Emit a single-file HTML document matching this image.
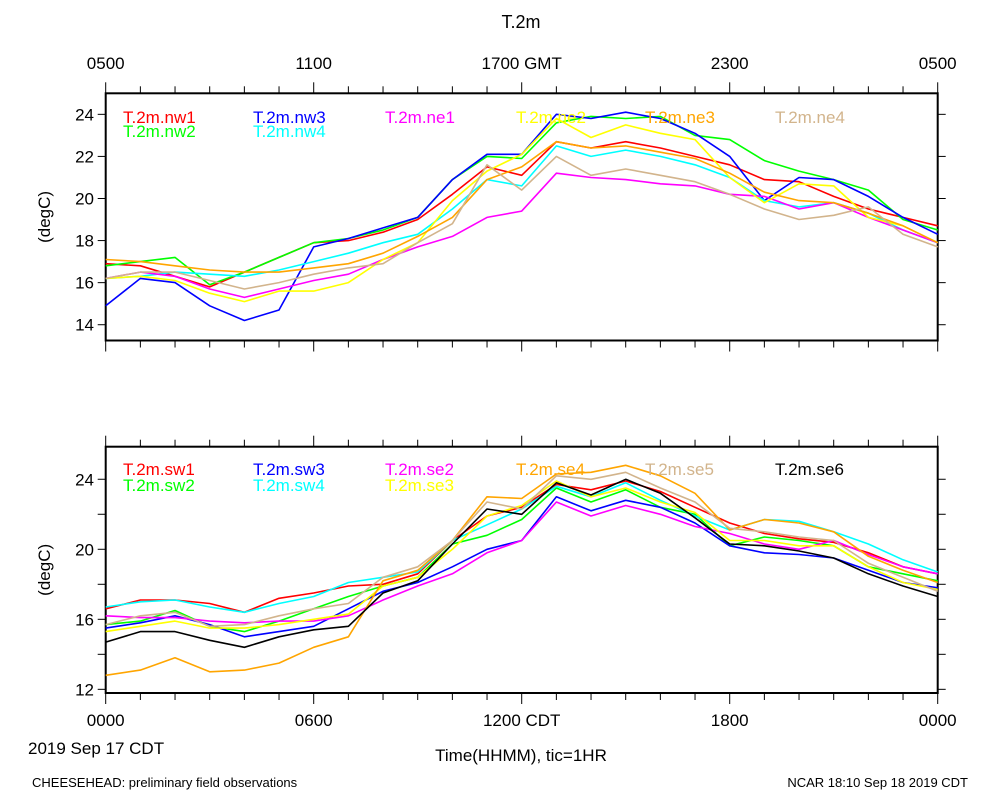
<!DOCTYPE html>
<html><head><meta charset="utf-8">
<style>
html,body{margin:0;padding:0;background:#fff;}
svg{display:block;font-family:"Liberation Sans",sans-serif;}
</style></head>
<body>
<svg id="chart" width="1000" height="800" viewBox="0 0 1000 800" xmlns="http://www.w3.org/2000/svg">
<rect width="1000" height="800" fill="#fff"/>
<text x="521" y="28" font-size="18" text-anchor="middle">T.2m</text>
<g id="top-panel"></g>
<g id="bottom-panel"></g>
<text x="28" y="754" font-size="17">2019 Sep 17 CDT</text>
<text x="521" y="761" font-size="17" text-anchor="middle">Time(HHMM), tic=1HR</text>
<text x="32" y="787" font-size="13">CHEESEHEAD: preliminary field observations</text>
<text x="968" y="787" font-size="13" text-anchor="end">NCAR 18:10 Sep 18 2019 CDT</text>
</svg>
<script>
// hours 0..24 (CDT)
const hours = [0,1,2,3,4,5,6,7,8,9,10,11,12,13,14,15,16,17,18,19,20,21,22,23,24];
const topTicks = [14,16,18,20,22,24];
const bottomTicks = [12,16,20,24];
const topAxisLabels = ["0500","1100","1700 GMT","2300","0500"];
const bottomAxisLabels = ["0000","0600","1200 CDT","1800","0000"];

const nw1 = [16.9,16.8,16.3,15.8,16.5,17.2,17.9,18.0,18.4,19.0,20.2,21.5,21.1,22.7,22.4,22.7,22.4,22.0,21.6,20.9,20.8,20.1,19.5,19.1,18.7];
const nw2 = [16.8,17.0,17.2,15.9,16.5,17.2,17.9,18.1,18.5,19.1,20.9,22.0,21.9,23.6,23.9,23.8,23.9,23.0,22.8,21.8,21.3,20.9,20.4,19.0,18.5];
const nw3 = [14.9,16.2,16.0,14.9,14.2,14.7,17.7,18.1,18.6,19.1,20.9,22.1,22.1,24.0,23.8,24.1,23.8,23.1,22.0,19.9,21.0,20.9,20.1,19.1,18.3];
const nw4 = [16.2,16.3,16.5,16.4,16.3,16.6,17.0,17.4,17.9,18.3,19.5,20.9,20.6,22.5,22.0,22.3,22.0,21.6,21.0,19.9,19.6,19.8,19.3,18.5,17.9];
const ne1 = [16.2,16.5,16.3,15.7,15.3,15.7,16.1,16.4,17.1,17.7,18.2,19.1,19.4,21.2,21.0,20.9,20.7,20.6,20.2,20.1,19.5,19.8,19.1,18.5,17.9];
const ne2 = [16.2,16.3,16.1,15.5,15.1,15.6,15.6,16.0,17.1,17.9,19.9,21.3,22.1,23.8,22.9,23.5,23.1,22.8,21.0,19.8,20.7,20.6,19.1,18.7,17.9];
const ne3 = [17.1,17.0,16.8,16.6,16.5,16.5,16.7,16.9,17.4,18.2,19.1,20.9,21.5,22.7,22.4,22.5,22.2,21.9,21.2,20.3,19.9,19.8,19.3,18.7,17.9];
const ne4 = [16.2,16.5,16.5,16.1,15.7,16.0,16.4,16.7,16.9,17.9,18.8,21.6,20.4,22.0,21.1,21.4,21.1,20.8,20.2,19.5,19.0,19.2,19.6,18.3,17.7];

const sw1 = [16.6,17.1,17.1,16.9,16.4,17.2,17.5,17.9,18.0,18.6,20.5,21.9,22.4,23.7,23.4,23.9,23.3,22.4,21.5,20.9,20.6,20.4,19.8,19.0,18.6];
const sw2 = [15.7,15.9,16.5,15.6,15.3,15.9,16.6,17.3,17.9,18.4,20.3,20.8,21.7,23.5,22.7,23.4,22.4,22.0,20.2,20.7,20.5,20.2,19.0,18.6,18.2];
const sw3 = [15.5,15.8,16.2,15.7,15.0,15.3,15.6,16.6,17.6,18.1,19.0,20.0,20.5,23.0,22.2,22.8,22.4,21.5,20.2,19.8,19.7,19.5,18.8,18.1,17.8];
const sw4 = [16.7,17.0,17.1,16.7,16.4,16.9,17.3,18.1,18.4,18.7,20.5,21.4,22.3,23.6,23.0,23.8,22.8,21.9,21.1,21.7,21.6,21.0,20.3,19.4,18.7];
const se2 = [16.2,16.1,16.1,15.9,15.8,15.9,15.9,16.2,17.1,17.9,18.6,19.8,20.5,22.7,21.9,22.5,22.0,21.3,20.9,20.3,20.0,20.5,19.7,19.0,18.6];
const se3 = [15.3,15.6,15.9,15.5,15.5,15.7,16.0,16.3,17.9,18.4,20.0,21.9,22.5,23.9,23.0,23.5,22.7,22.1,20.5,20.5,20.2,20.2,19.0,18.1,17.7];
const se4 = [12.8,13.1,13.8,13.0,13.1,13.5,14.4,15.0,18.2,18.8,20.5,23.0,22.9,24.3,24.4,24.8,24.2,23.2,21.1,21.7,21.5,21.0,19.6,18.8,18.1];
const se5 = [15.7,16.2,16.4,15.6,15.7,16.2,16.6,16.9,18.4,19.0,20.5,22.7,22.3,24.2,24.0,24.4,23.5,22.7,21.2,21.0,20.7,20.5,19.2,18.4,17.6];
const se6 = [14.7,15.3,15.3,14.8,14.4,15.0,15.4,15.6,17.5,18.2,20.3,22.3,22.0,23.8,23.1,24.0,23.2,21.8,20.3,20.2,19.9,19.5,18.6,17.9,17.3];

const NS = "http://www.w3.org/2000/svg";
const X0 = 105.7, X1 = 937.7;
function xScale(h){ return X0 + (h/24)*(X1-X0); }
function mk(tag, attrs, parent){
  const e = document.createElementNS(NS, tag);
  for (const k in attrs) e.setAttribute(k, attrs[k]);
  parent.appendChild(e);
  return e;
}

function drawPanel(g, top, bottom, vTop, vBot, ticks, labels, series, legend, labelAbove, labelY, prefix){
  const yScale = v => top + (vTop - v)/(vTop - vBot)*(bottom - top);
  const frame = mk('rect', {x:X0, y:top, width:X1-X0, height:bottom-top, fill:'none', stroke:'#000', 'stroke-width':2}, g);
  
  
  // x ticks
  for (let h=0; h<=24; h++){
    const x = xScale(h);
    const len = (h%6===0) ? 11 : 7;
    const t1 = mk('line', {x1:x, y1:top, x2:x, y2:top-len, stroke:'#000', 'stroke-width':1}, g);
    
    
    const t2 = mk('line', {x1:x, y1:bottom, x2:x, y2:bottom+len, stroke:'#000', 'stroke-width':1}, g);
    
    
  }
  // y ticks
  for (let v=Math.ceil(vBot); v<=vTop; v++){
    if (v%2!==0) continue;
    const y = yScale(v);
    const t1 = mk('line', {x1:X0, y1:y, x2:X0-8, y2:y, stroke:'#000', 'stroke-width':1}, g);
    
    
    const t2 = mk('line', {x1:X1, y1:y, x2:X1+8, y2:y, stroke:'#000', 'stroke-width':1}, g);
    
    
  }
  ticks.forEach(v=>{
    const t = mk('text', {x:94, y:yScale(v)+6, 'font-size':17, 'text-anchor':'end'}, g);
    t.textContent = v;
    
    
  });
  const yt = mk('text', {x:0, y:0, 'font-size':17, 'text-anchor':'middle', transform:`translate(50,${(top+bottom)/2}) rotate(-90)`}, g);
  yt.textContent = '(degC)';
  
  
  labels.forEach((s,i)=>{
    const t = mk('text', {x:xScale(i*6), y:labelY, 'font-size':17, 'text-anchor':'middle'}, g);
    t.textContent = s;
    
    
  });
  // series
  series.forEach(s=>{
    const d = s.vals.map((v,i)=>(i?'L':'M') + xScale(hours[i]).toFixed(1) + ' ' + yScale(v).toFixed(1)).join(' ');
    const p = mk('path', {d:d, fill:'none', stroke:s.color, 'stroke-width':1.6, 'stroke-linejoin':'round'}, g);
    
    
  });
  // legend
  series.forEach((s,i)=>{
    const col = Math.floor(i/2), row = i%2;
    const pos = legend[i];
    const t = mk('text', {x:pos[0], y:pos[1], 'font-size':17, fill:s.color}, g);
    t.textContent = s.name;
    
    
  });
}

const topSeries = [
  {name:'T.2m.nw1', color:'#ff0000', vals:nw1},
  {name:'T.2m.nw2', color:'#00ff00', vals:nw2},
  {name:'T.2m.nw3', color:'#0000ff', vals:nw3},
  {name:'T.2m.nw4', color:'#00ffff', vals:nw4},
  {name:'T.2m.ne1', color:'#ff00ff', vals:ne1},
  {name:'T.2m.ne2', color:'#ffff00', vals:ne2},
  {name:'T.2m.ne3', color:'#ffa500', vals:ne3},
  {name:'T.2m.ne4', color:'#d2b48c', vals:ne4}
];
const topLegend = [[123,123],[123,137],[253,123],[253,137],[385,123],[516,123],[645,123],[775,123]];
const bottomSeries = [
  {name:'T.2m.sw1', color:'#ff0000', vals:sw1},
  {name:'T.2m.sw2', color:'#00ff00', vals:sw2},
  {name:'T.2m.sw3', color:'#0000ff', vals:sw3},
  {name:'T.2m.sw4', color:'#00ffff', vals:sw4},
  {name:'T.2m.se2', color:'#ff00ff', vals:se2},
  {name:'T.2m.se3', color:'#ffff00', vals:se3},
  {name:'T.2m.se4', color:'#ffa500', vals:se4},
  {name:'T.2m.se5', color:'#d2b48c', vals:se5},
  {name:'T.2m.se6', color:'#000000', vals:se6}
];
const bottomLegend = [[123,475],[123,491],[253,475],[253,491],[385,475],[385,491],[516,475],[645,475],[775,475]];

drawPanel(document.getElementById('top-panel'), 93.3, 340.5, 25.0, 13.25, topTicks, topAxisLabels, topSeries, topLegend, true, 69, 'top');
drawPanel(document.getElementById('bottom-panel'), 446.7, 693, 25.86, 11.79, bottomTicks, bottomAxisLabels, bottomSeries, bottomLegend, false, 726, 'bottom');
</script>
</body></html>
